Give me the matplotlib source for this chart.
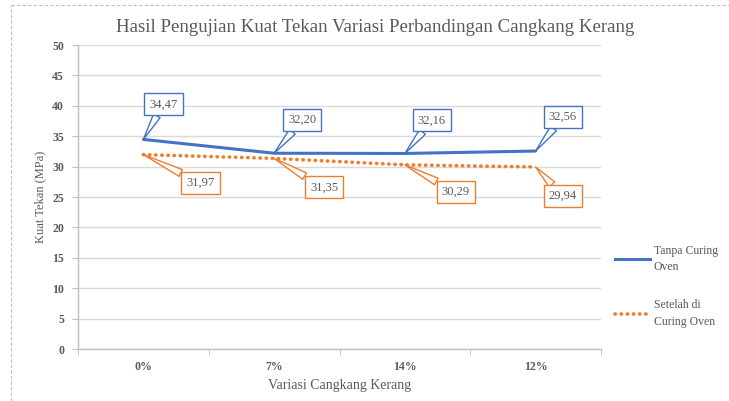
import numpy as np
import matplotlib.pyplot as plt
from matplotlib.lines import Line2D

categories = ["0%", "7%", "14%", "12%"]
tanpa_curing = [34.47, 32.20, 32.16, 32.56]
setelah_curing = [31.97, 31.35, 30.29, 29.94]
yticks = list(range(0, 55, 5))

# callout offsets (pixels) from each point to its label box
tanpa_offsets = [(20, 35), (28, 33), (27, 33), (27, 34)]
setelah_offsets = [(57, -28), (50, -29), (51, -27), (27, -29)]

BLUE = "#4472C4"
ORANGE = "#ED7D31"
TEXT = "#595959"

plt.rcParams["font.family"] = ["Liberation Serif", "DejaVu Serif"]

fig = plt.figure(figsize=(7.29, 4.01), dpi=100)
ax = fig.add_axes([78 / 729, 1 - 349 / 401, (601 - 78) / 729, (349 - 45) / 401])

x = np.arange(len(categories))
ax.plot(x, tanpa_curing, color=BLUE, lw=2.2, solid_capstyle="round", zorder=3)
ax.plot(x, setelah_curing, color=ORANGE, lw=2.6, linestyle=(0, (0.1, 1.6)),
        dash_capstyle="round", zorder=3)


def fmt(v):
    return f"{v:.2f}".replace(".", ",")


def callout(xi, yi, off, color):
    ax.annotate(fmt(yi), xy=(xi, yi), xytext=off, textcoords="offset pixels",
                ha="center", va="center", fontsize=9, color=TEXT,
                bbox=dict(boxstyle="square,pad=0.4", fc="white", ec=color, lw=1.0),
                arrowprops=dict(arrowstyle="wedge,tail_width=0.6,shrink_factor=0.5",
                                fc="white", ec=color, lw=1.0, shrinkA=0, shrinkB=0),
                zorder=5)


for xi, yi, off in zip(x, tanpa_curing, tanpa_offsets):
    callout(xi, yi, off, BLUE)
for xi, yi, off in zip(x, setelah_curing, setelah_offsets):
    callout(xi, yi, off, ORANGE)

ax.set_xlim(-0.5, len(categories) - 0.5)
ax.set_ylim(0, 50)
ax.set_yticks(yticks)
ax.set_xticks(x)
ax.set_xticklabels(categories)
ax.set_xticks(np.arange(-0.5, len(categories)), minor=True)
ax.tick_params(axis="x", which="major", length=0, pad=9)
ax.tick_params(axis="x", which="minor", length=4, color="#BFBFBF")
ax.tick_params(axis="y", length=4, color="#BFBFBF", pad=6)
for lab in ax.get_xticklabels() + ax.get_yticklabels():
    lab.set_fontweight("bold")
    lab.set_fontsize(8.5)
    lab.set_color(TEXT)

ax.grid(axis="y", color="#D9D9D9", lw=1)
ax.set_axisbelow(True)
for s in ["top", "right"]:
    ax.spines[s].set_visible(False)
for s in ["left", "bottom"]:
    ax.spines[s].set_color("#BFBFBF")
    ax.spines[s].set_linewidth(1)

ax.set_xlabel("Variasi Cangkang Kerang", fontsize=10, color=TEXT, labelpad=4)
ax.set_ylabel("Kuat Tekan (MPa)", fontsize=9, color=TEXT, labelpad=4)
fig.text(375 / 729, 1 - 28 / 401, "Hasil Pengujian Kuat Tekan Variasi Perbandingan Cangkang Kerang",
         ha="center", va="center", fontsize=13.6, color=TEXT)

handles = [
    Line2D([], [], color=BLUE, lw=2.2),
    Line2D([], [], color=ORANGE, lw=2.6, linestyle=(0, (0.1, 1.6)), dash_capstyle="round"),
]
labels = ["Tanpa Curing\nOven", "Setelah di\nCuring Oven"]
leg = fig.legend(handles, labels, loc="upper left", bbox_to_anchor=(610 / 729, 1 - 240 / 401),
                 frameon=False, fontsize=8.5, labelspacing=2.2, handlelength=3.0,
                 handletextpad=0.3, borderaxespad=0)
for t in leg.get_texts():
    t.set_color(TEXT)
    t.set_linespacing(1.5)

# dashed chart border
fig.add_artist(Line2D([11 / 729, 11 / 729], [0, 1 - 5 / 401], color="#BFBFBF", lw=0.8,
                      linestyle=(0, (3, 2)), transform=fig.transFigure))
fig.add_artist(Line2D([11 / 729, 1], [1 - 5 / 401, 1 - 5 / 401], color="#BFBFBF", lw=0.8,
                      linestyle=(0, (3, 2)), transform=fig.transFigure))

fig.savefig("out.png", dpi=100)
